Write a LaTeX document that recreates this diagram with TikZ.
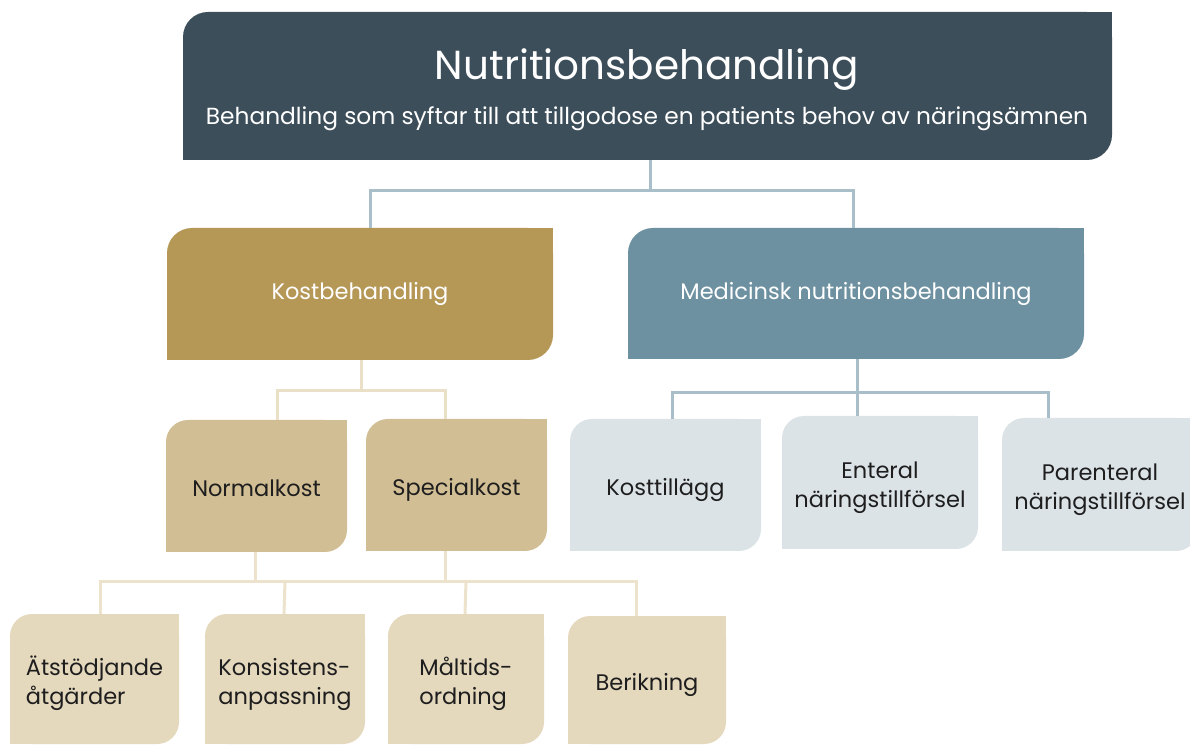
\documentclass[tikz,border=0pt]{standalone}
\usepackage{fontspec}
\setmainfont{Poppins}
\usetikzlibrary{calc}
\definecolor{topc}{HTML}{3C4E5A}
\definecolor{kostc}{HTML}{B59756}
\definecolor{medc}{HTML}{6D91A1}
\definecolor{midc}{HTML}{D2BE94}
\definecolor{lowc}{HTML}{E4D8BD}
\definecolor{rightc}{HTML}{DCE3E7}
\definecolor{lineb}{HTML}{A8BFC9}
\definecolor{linet}{HTML}{EADFC7}
\definecolor{linel}{HTML}{EDE3CD}
\definecolor{txtc}{HTML}{1E1E1E}
\newcommand\cbox[8]{%
  \node[fill=#6, rounded corners=#7, minimum width=#4pt, minimum height=#5pt,
        inner sep=0pt] (#1) at (#2,#3) {#8};
  \fill[#6] (#1.north east) rectangle ++(-#7,-#7);
  \fill[#6] (#1.south west) rectangle ++(#7,#7);}
\newcommand\wl[2]{{\fontsize{22.5}{29}\selectfont\color{white}\begin{tabular}{@{}#1@{}}#2\end{tabular}}}
\newcommand\dl[2]{{\fontsize{22.5}{29}\selectfont\color{txtc}\raisebox{-5pt}[\height][\depth]{\begin{tabular}{@{}#1@{}}#2\end{tabular}}}}
\tikzset{
  conn/.style={line width=3pt},
}
\begin{document}
\begin{tikzpicture}[x=1pt,y=1pt]
\useasboundingbox (0,0) rectangle (1190,744);
% boxes
\cbox{top}{647.5}{658}{929}{148}{topc}{25pt}{}
\node[anchor=base, text=white, font=\fontsize{40.5}{50}\selectfont] (title) at (647,664) {Nutritionsbehandling};
\node[anchor=base, text=white, font=\fontsize{23.3}{28}\selectfont] (sub) at (647,619) {Behandling som syftar till att tillgodose en patients behov av näringsämnen};
\cbox{kost}{360}{450}{386}{132}{kostc}{25pt}{\wl{c}{Kostbehandling}}
\cbox{med}{856}{450.5}{456}{131}{medc}{25pt}{\wl{c}{Medicinsk nutritionsbehandling}}
\cbox{normal}{256.5}{258}{181}{132}{midc}{22pt}{\dl{c}{Normalkost}}
\cbox{special}{456.5}{259}{181}{132}{midc}{22pt}{\dl{c}{Specialkost}}
\cbox{tillagg}{665.5}{259}{191}{132}{rightc}{22pt}{\dl{c}{Kosttillägg}}
\cbox{enteral}{880}{261.5}{196}{133}{rightc}{22pt}{\dl{c}{Enteral\\näringstillförsel}}
\cbox{parenteral}{1100}{259.5}{196}{133}{rightc}{22pt}{\dl{c}{Parenteral\\näringstillförsel}}
\cbox{atstod}{94.5}{65}{169}{130}{lowc}{22pt}{\dl{l}{Ätstödjande\\åtgärder}}
\cbox{konsistens}{285}{65}{160}{130}{lowc}{22pt}{\dl{l}{Konsistens-\\anpassning}}
\cbox{maltids}{466}{65}{156}{130}{lowc}{22pt}{\dl{l}{Måltids-\\ordning}}
\cbox{berikning}{647}{64}{158}{128}{lowc}{22pt}{\dl{c}{Berikning}}
% connectors
\draw[conn, lineb] ([xshift=2.5pt]top.south) -- ++(0,-30) coordinate (j1);
\draw[conn, lineb] ([xshift=10pt]kost.north) |- (j1) -| ([xshift=-3pt]med.north);
\draw[conn, linet] ([xshift=1pt]kost.south) -- ++(0,-30) coordinate (j2);
\draw[conn, linet] ([xshift=20.5pt]normal.north) |- (j2) -| ([xshift=-11.5pt]special.north);
\draw[conn, lineb] ([xshift=1pt]med.south) -- ++(0,-33) coordinate (j3);
\draw[conn, lineb] ([xshift=6.5pt]tillagg.north) |- (j3) -| ([xshift=-52pt]parenteral.north);
\draw[conn, lineb] (j3) -| ([xshift=-23pt]enteral.north);
\draw[conn, linel] ([xshift=-1.5pt]normal.south) -- ++(0,-29) coordinate (j4);
\draw[conn, linel] ([xshift=-11.5pt]special.south) -- ++(0,-30) coordinate (j5);
\draw[conn, linel] ([xshift=5.5pt]atstod.north) |- (j4) -- (j5) -| ([xshift=-11pt]berikning.north);
\draw[conn, linel] (j4 -| konsistens.north) -- ([xshift=-1pt]konsistens.north);
\draw[conn, linel] (j5 -| maltids.north) -- ([xshift=-1pt]maltids.north);
\end{tikzpicture}
\end{document}
